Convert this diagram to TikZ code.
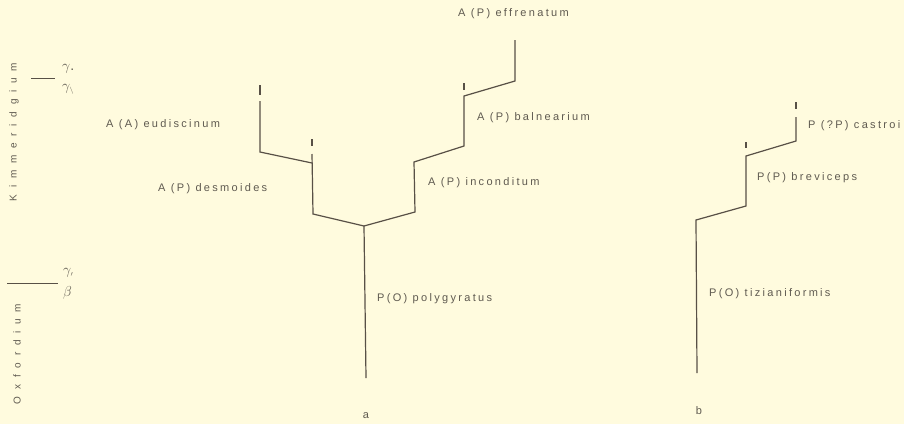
\documentclass[tikz,border=0pt]{standalone}
\usepackage{fontspec}
\setmainfont{Liberation Sans}
\newfontfamily\labfont[LetterSpace=21]{Liberation Sans}
\newfontfamily\axfont[LetterSpace=68]{Liberation Sans}
\definecolor{bgcol}{RGB}{255,251,222}
\definecolor{linecol}{RGB}{88,80,70}
\definecolor{txtcol}{RGB}{95,90,80}
\begin{document}
\begin{tikzpicture}[x=1pt,y=-1pt,
  branch/.style={draw=linecol,line width=1.2pt},
  tick/.style={draw=linecol,line width=1.1pt},
  taxon/.style={anchor=west,inner sep=0pt,text=txtcol,font=\labfont\fontsize{11}{12}\selectfont},
  axis/.style={inner sep=0pt,text=txtcol,font=\axfont\fontsize{10}{11}\selectfont,rotate=90},
  zone/.style={inner sep=0pt,text=txtcol,font=\fontsize{14}{15}\selectfont}]
\fill[bgcol] (0,0) rectangle (904,424);
\useasboundingbox (0,0) rectangle (904,424);
% ---- tree a ----
\coordinate (a0) at (366,378);
\coordinate (aj) at (364,226);
\coordinate (aL1) at (313,214);
\coordinate (aL1t) at (312,154);
\coordinate (aL1b) at (312,163);
\coordinate (aL2) at (260,152);
\coordinate (aL2t) at (260,101);
\coordinate (aR1) at (415,212);
\coordinate (aR1t) at (414,162);
\coordinate (aR2) at (464,146);
\coordinate (aR2t) at (464,96);
\coordinate (aR3) at (515,81);
\coordinate (aR3t) at (515,40);
\draw[branch] (a0) -- (aj);
\draw[branch] (aj) -- (aL1) -- (aL1t);
\draw[branch] (aL1b) -- (aL2) -- (aL2t);
\draw[branch] (aj) -- (aR1) -- (aR1t) -- (aR2) -- (aR2t) -- (aR3) -- (aR3t);
% ticks
\coordinate (t1a) at (260,85); \coordinate (t1b) at (260,95);
\coordinate (t2a) at (312,139); \coordinate (t2b) at (312,146);
\coordinate (t3a) at (464,83); \coordinate (t3b) at (464,90);
\draw[tick] (t1a) -- (t1b);
\draw[tick] (t2a) -- (t2b);
\draw[tick] (t3a) -- (t3b);
% ---- tree b ----
\coordinate (b0) at (697,373);
\coordinate (b1) at (696,220);
\coordinate (b2) at (746,206);
\coordinate (b2t) at (746,156);
\coordinate (b3) at (796,141);
\coordinate (b3t) at (796,117);
\draw[branch] (b0) -- (b1) -- (b2) -- (b2t) -- (b3) -- (b3t);
\coordinate (t4a) at (746,142); \coordinate (t4b) at (746,148);
\coordinate (t5a) at (796,102); \coordinate (t5b) at (796,109);
\draw[tick] (t4a) -- (t4b);
\draw[tick] (t5a) -- (t5b);
% ---- labels ----
\node[taxon] (effr) at (458,14) {A (P) effrenatum};
\node[taxon] (baln) at (477,118) {A (P) balnearium};
\node[taxon] (inco) at (428,183) {A (P) inconditum};
\node[taxon] (eudi) at (106,125) {A (A) eudiscinum};
\node[taxon] (desm) at (158,189) {A (P) desmoides};
\node[taxon] (poly) at (377,299) {P(O) polygyratus};
\node[taxon] (tizi) at (709,294) {P(O) tizianiformis};
\node[taxon] (brev) at (757,178) {P(P) breviceps};
\node[taxon] (cast) at (808,126) {P (?P) castroi};
\node[taxon,anchor=center] (la) at (366,416) {a};
\node[taxon,anchor=center] (lb) at (699,411) {b};
% ---- stratigraphic axis ----
\node[axis] (kim) at (14,132) {Kimmeridgium};
\node[axis] (oxf) at (17,354) {Oxfordium};
\coordinate (z1a) at (31,78); \coordinate (z1b) at (55,78);
\coordinate (z2a) at (7,283); \coordinate (z2b) at (58,283);
\draw[branch,line width=1pt] (z1a) -- (z1b);
\draw[branch,line width=1pt] (z2a) -- (z2b);
\node[zone,anchor=west] (g1) at (62,69) {$\gamma$.};
\node[zone,anchor=west] (g2) at (62,89) {$\gamma_{\scriptscriptstyle\backslash}$};
\node[zone,anchor=west] (g3) at (63,273) {$\gamma_{\scriptscriptstyle\prime}$};
\node[zone,anchor=west] (g4) at (63,293) {$\beta$};
\end{tikzpicture}
\end{document}
